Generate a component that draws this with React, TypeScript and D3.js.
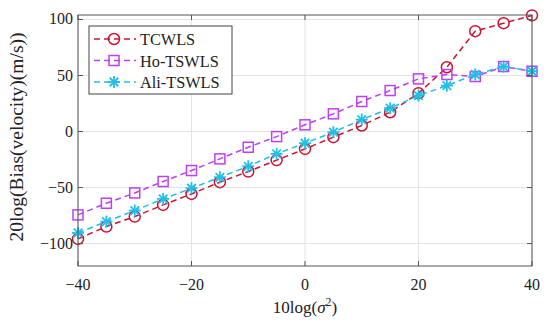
import React from 'react';
import * as d3 from 'd3';

const width = 550;
const height = 332;
const margin = {top: 15, right: 18, bottom: 66, left: 78};

const sigma = [-40, -35, -30, -25, -20, -15, -10, -5, 0, 5, 10, 15, 20, 25, 30, 35, 40];
const tcwls = [-95.8, -84.8, -75.9, -65.5, -55.7, -45.2, -35.7, -25.5, -15.5, -5, 5.4, 17.2, 34.2, 57.4, 89.6, 96.7, 103.6];
const hoTswls = [-74.4, -64, -54.8, -44.6, -34.8, -24.4, -14, -4.5, 6, 15.8, 26.8, 36.6, 47, 50.9, 49.1, 58, 53.8];
const aliTswls = [-90.5, -80.4, -70.5, -60.1, -50.6, -40.8, -31, -19.9, -10.4, -0.6, 10.7, 20.8, 32.1, 41, 50.9, 58, 53.8];
const xTicks = [-40, -20, 0, 20, 40];
const yTicks = [-100, -50, 0, 50, 100];
const seriesNames = ['TCWLS', 'Ho-TSWLS', 'Ali-TSWLS'];

const red = '#cc1430';
const purple = '#bf40f2';
const cyan = '#20bfe8';
const font = '"Liberation Serif", "DejaVu Serif", serif';

const x = d3.scaleLinear().domain([-40, 40]).range([margin.left, width - margin.right]);
const y = d3.scaleLinear().domain([-120, 104]).range([height - margin.bottom, margin.top]);

function Marker({kind, cx, cy, color}: {kind: string; cx: number; cy: number; color: string}) {
  if (kind === 'circle') return <circle cx={cx} cy={cy} r={5.5} fill="none" stroke={color} strokeWidth={1.5} />;
  if (kind === 'square') return <rect x={cx - 5} y={cy - 5} width={10} height={10} fill="none" stroke={color} strokeWidth={1.5} />;
  const s = 6;
  const d = s * 0.707;
  return (
    <g stroke={color} strokeWidth={1.8}>
      <line x1={cx - s} y1={cy} x2={cx + s} y2={cy} />
      <line x1={cx} y1={cy - s} x2={cx} y2={cy + s} />
      <line x1={cx - d} y1={cy - d} x2={cx + d} y2={cy + d} />
      <line x1={cx - d} y1={cy + d} x2={cx + d} y2={cy - d} />
    </g>
  );
}

export default function App() {
  const line = d3.line<number>().x((_, i) => x(sigma[i])).y(d => y(d));
  const series = [
    {name: seriesNames[0], values: tcwls, color: red, kind: 'circle'},
    {name: seriesNames[1], values: hoTswls, color: purple, kind: 'square'},
    {name: seriesNames[2], values: aliTswls, color: cyan, kind: 'star'},
  ];
  const x0 = margin.left, x1 = width - margin.right;
  const y0 = height - margin.bottom, y1 = margin.top;
  const axisColor = '#555';

  return (
    <svg width={width} height={height} style={{position: 'absolute', left: 0, top: 0, background: '#fff'}}>
      {/* grid */}
      {xTicks.map(t => <line key={'gx' + t} x1={x(t)} x2={x(t)} y1={y0} y2={y1} stroke="#e3e3e3" strokeWidth={1} />)}
      {yTicks.map(t => <line key={'gy' + t} x1={x0} x2={x1} y1={y(t)} y2={y(t)} stroke="#e3e3e3" strokeWidth={1} />)}

      {/* series */}
      {series.map(s => (
        <g key={s.name}>
          <path d={line(s.values) || ''} fill="none" stroke={s.color} strokeWidth={1.5} strokeDasharray="6,4" />
          {s.values.map((v, i) => <Marker key={i} kind={s.kind} cx={x(sigma[i])} cy={y(v)} color={s.color} />)}
        </g>
      ))}

      {/* box + ticks */}
      <rect x={x0} y={y1} width={x1 - x0} height={y0 - y1} fill="none" stroke={axisColor} strokeWidth={1} />
      {xTicks.map(t => (
        <g key={'tx' + t}>
          <line x1={x(t)} x2={x(t)} y1={y0} y2={y0 - 5} stroke={axisColor} />
          <line x1={x(t)} x2={x(t)} y1={y1} y2={y1 + 5} stroke={axisColor} />
          <text x={x(t)} y={y0 + 24} textAnchor="middle" fontFamily={font} fontSize={16} fill="#222">
            {t < 0 ? '\u2212' + Math.abs(t) : t}
          </text>
        </g>
      ))}
      {yTicks.map(t => (
        <g key={'ty' + t}>
          <line x1={x0} x2={x0 + 5} y1={y(t)} y2={y(t)} stroke={axisColor} />
          <line x1={x1} x2={x1 - 5} y1={y(t)} y2={y(t)} stroke={axisColor} />
          <text x={x0 - 5} y={y(t) + 5} textAnchor="end" fontFamily={font} fontSize={16} fill="#222">
            {t < 0 ? '\u2212' + Math.abs(t) : t}
          </text>
        </g>
      ))}

      {/* axis labels */}
      <text x={x(0)} y={313} textAnchor="middle" fontFamily={font} fontSize={17} fill="#222">
        10log(<tspan fontStyle="italic">σ</tspan><tspan dy={-7} fontSize={12}>2</tspan><tspan dy={7}>)</tspan>
      </text>
      <text transform={`translate(23, 137) rotate(-90)`} textAnchor="middle" fontFamily={font} fontSize={19.5} fill="#222">
        20log(Bias(velocity)(m/s))
      </text>

      {/* legend */}
      <g>
        <rect x={89} y={26} width={143} height={68} fill="#fff" stroke="#444" strokeWidth={1} />
        {series.map((s, i) => {
          const ly = 39 + i * 21.5;
          return (
            <g key={'lg' + s.name}>
              <line x1={94} x2={136} y1={ly} y2={ly} stroke={s.color} strokeWidth={1.5} strokeDasharray="6,4" />
              <Marker kind={s.kind} cx={114} cy={ly} color={s.color} />
              <text x={140} y={ly + 6} fontFamily={font} fontSize={16.3} fill="#222">{s.name}</text>
            </g>
          );
        })}
      </g>
    </svg>
  );
}
